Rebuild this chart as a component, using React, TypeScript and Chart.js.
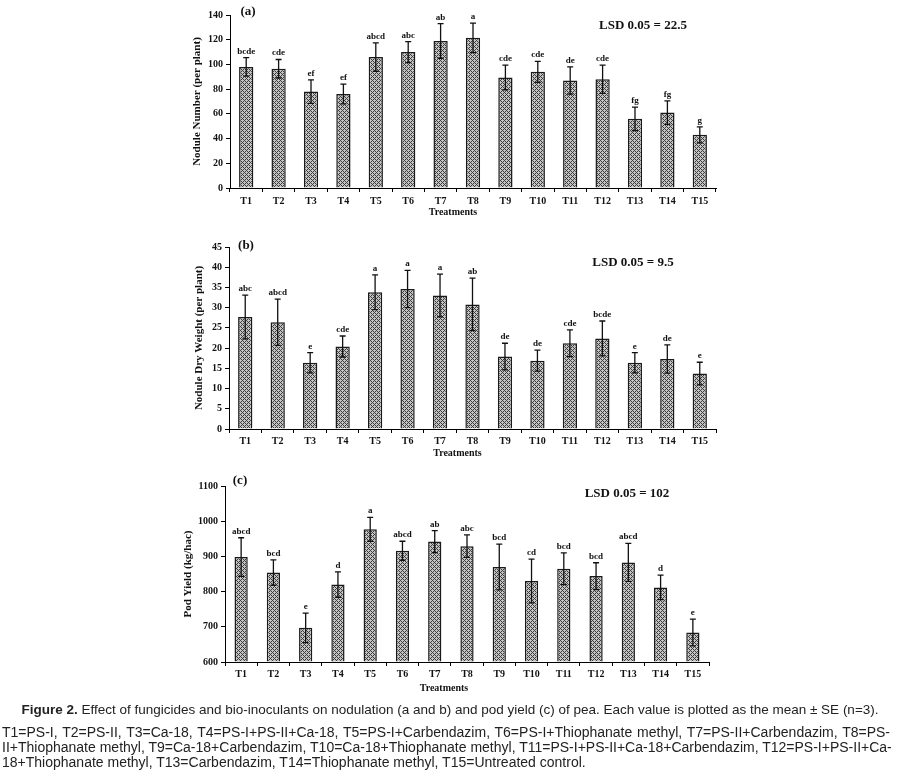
import React, { useEffect, useRef } from 'react';
import { Chart, registerables } from 'chart.js';

Chart.register(...registerables);

const treatments = ['T1', 'T2', 'T3', 'T4', 'T5', 'T6', 'T7', 'T8', 'T9', 'T10', 'T11', 'T12', 'T13', 'T14', 'T15'];

// (a) Nodule number
const noduleNumber = [98, 96.5, 78, 76, 106, 110, 119, 121.5, 89.5, 94, 87, 88, 56, 61, 43];
const noduleNumberSE = [7.5, 7.5, 9.5, 8, 11.5, 8.5, 14, 12, 10, 8.5, 11, 11.5, 9.5, 9.5, 6.5];
const noduleNumberLetters = ['bcde', 'cde', 'ef', 'ef', 'abcd', 'abc', 'ab', 'a', 'cde', 'cde', 'de', 'cde', 'fg', 'fg', 'g'];
const noduleNumberTicks = [0, 20, 40, 60, 80, 100, 120, 140];

// (b) Nodule dry weight
const noduleDryWeight = [27.7, 26.4, 16.4, 20.4, 33.8, 34.6, 33.0, 30.8, 17.9, 16.9, 21.2, 22.4, 16.4, 17.3, 13.7];
const noduleDryWeightSE = [5.4, 5.7, 2.5, 2.6, 4.3, 4.6, 5.3, 6.5, 3.3, 2.6, 3.3, 4.3, 2.5, 3.5, 2.8];
const noduleDryWeightLetters = ['abc', 'abcd', 'e', 'cde', 'a', 'a', 'a', 'ab', 'de', 'de', 'cde', 'bcde', 'e', 'de', 'e'];
const noduleDryWeightTicks = [0, 5, 10, 15, 20, 25, 30, 35, 40, 45];

// (c) Pod yield
const podYield = [898, 854, 697, 820, 977, 916, 942, 929, 870, 830, 865, 844, 883, 812, 684];
const podYieldSE = [55, 36, 42, 36, 34, 27, 31, 32, 65, 62, 45, 38, 54, 35, 38];
const podYieldLetters = ['abcd', 'bcd', 'e', 'd', 'a', 'abcd', 'ab', 'abc', 'bcd', 'cd', 'bcd', 'bcd', 'abcd', 'd', 'e'];
const podYieldTicks = [600, 700, 800, 900, 1000, 1100];

const SERIF = '"Liberation Serif", "Times New Roman", serif';

function makePattern(): CanvasPattern | string {
  const c = document.createElement('canvas');
  c.width = 4;
  c.height = 4;
  const g = c.getContext('2d');
  if (!g) return '#999';
  g.fillStyle = '#c4c4c4';
  g.fillRect(0, 0, 4, 4);
  g.fillStyle = '#3c3c3c';
  for (let x = 0; x < 4; x++) {
    for (let y = 0; y < 4; y++) {
      if ((x + y) % 4 === 0 || (x - y + 4) % 4 === 0) g.fillRect(x, y, 1, 1);
    }
  }
  const p = g.createPattern(c, 'repeat');
  return p || '#999';
}

type PanelProps = {
  top: number;
  height: number;
  padLeft: number;
  padRight: number;
  padTop: number;
  xAxisHeight: number;
  tickPad: number;
  yTitle: string;
  yTitlePad: number;
  values: number[];
  se: number[];
  letters: string[];
  ticks: number[];
  barPct: number;
  panelLabel: string;
  panelLabelPos: [number, number];
  lsdText: string;
  lsdPos: [number, number];
  xTitleShift: number;
  xTitleY: number;
};

function Panel(p: PanelProps) {
  const ref = useRef<HTMLCanvasElement | null>(null);
  useEffect(() => {
    if (!ref.current) return;
    const pattern = makePattern();
    const minV = p.ticks[0];
    const maxV = p.ticks[p.ticks.length - 1];
    const step = p.ticks[1] - p.ticks[0];
    const overlay = {
      id: 'overlay',
      afterDatasetsDraw(chart: any) {
        const ctx = chart.ctx;
        const xs = chart.scales.x;
        const ys = chart.scales.y;
        ctx.save();
        ctx.strokeStyle = '#111';
        ctx.lineWidth = 1.3;
        ctx.fillStyle = '#111';
        ctx.font = `bold 9px ${SERIF}`;
        ctx.textAlign = 'center';
        ctx.textBaseline = 'alphabetic';
        p.values.forEach((v, i) => {
          const cx = xs.getPixelForValue(i);
          const yt = ys.getPixelForValue(v + p.se[i]);
          const yb = ys.getPixelForValue(v - p.se[i]);
          ctx.beginPath();
          ctx.moveTo(cx, yt);
          ctx.lineTo(cx, yb);
          ctx.moveTo(cx - 3, yt);
          ctx.lineTo(cx + 3, yt);
          ctx.moveTo(cx - 3, yb);
          ctx.lineTo(cx + 3, yb);
          ctx.stroke();
          ctx.fillText(p.letters[i], cx, yt - 4);
        });
        ctx.font = `bold 13px ${SERIF}`;
        ctx.textBaseline = 'middle';
        ctx.fillText(p.panelLabel, p.panelLabelPos[0], p.panelLabelPos[1]);
        ctx.fillText(p.lsdText, p.lsdPos[0], p.lsdPos[1]);
        ctx.font = `bold 10px ${SERIF}`;
        const ca = chart.chartArea;
        ctx.fillText('Treatments', (ca.left + ca.right) / 2 + p.xTitleShift, p.xTitleY);
        ctx.restore();
      },
    };
    const chart = new Chart(ref.current, {
      type: 'bar',
      data: {
        labels: treatments,
        datasets: [
          {
            data: p.values,
            backgroundColor: pattern as any,
            borderColor: '#1a1a1a',
            borderWidth: 1.5,
            borderSkipped: 'start',
            base: minV,
            categoryPercentage: 1,
            barPercentage: p.barPct,
          } as any,
        ],
      },
      options: {
        animation: false,
        responsive: false,
        maintainAspectRatio: false,
        devicePixelRatio: 1,
        layout: { padding: { left: p.padLeft, right: p.padRight, top: p.padTop, bottom: 0 } },
        plugins: { legend: { display: false }, tooltip: { enabled: false }, title: { display: false } },
        scales: {
          x: {
            afterFit: (s: any) => {
              s.height = p.xAxisHeight;
            },
            grid: { display: true, drawOnChartArea: false, drawTicks: true, tickLength: 4, offset: true, color: '#000' },
            border: { display: true, color: '#000', width: 1 },
            ticks: { color: '#111', font: { family: SERIF, size: 10, weight: 'bold' }, padding: p.tickPad, maxRotation: 0, autoSkip: false },
          },
          y: {
            min: minV,
            max: maxV,
            afterFit: (s: any) => {
              s.width = 45;
            },
            grid: { display: true, drawOnChartArea: false, drawTicks: true, tickLength: 4, color: '#000' },
            border: { display: true, color: '#000', width: 1 },
            ticks: {
              stepSize: step,
              color: '#111',
              font: { family: SERIF, size: 10, weight: 'bold' },
              padding: 3,
              callback: (v: any) => String(v),
            },
            title: {
              display: true,
              text: p.yTitle,
              color: '#111',
              font: { family: SERIF, size: 11, weight: 'bold' },
              padding: { top: p.yTitlePad, bottom: 0 },
            },
          },
        },
      },
      plugins: [overlay],
    } as any);
    return () => chart.destroy();
  }, []);
  return (
    <canvas
      ref={ref}
      width={900}
      height={p.height}
      style={{ position: 'absolute', left: 0, top: p.top, width: 900, height: p.height }}
    />
  );
}

const captionFont = '"Liberation Sans", Arial, sans-serif';

export default function App() {
  return (
    <div style={{ position: 'absolute', left: 0, top: 0, width: 900, height: 780, background: '#fff', overflow: 'hidden' }}>
      <Panel
        top={0}
        height={222}
        padLeft={185}
        padRight={184}
        padTop={15}
        xAxisHeight={34}
        tickPad={3}
        yTitle="Nodule Number (per plant)"
        yTitlePad={6}
        values={noduleNumber}
        se={noduleNumberSE}
        letters={noduleNumberLetters}
        ticks={noduleNumberTicks}
        barPct={0.44}
        panelLabel="(a)"
        panelLabelPos={[248, 12]}
        lsdText="LSD 0.05 = 22.5"
        lsdPos={[643, 26]}
        xTitleShift={-20}
        xTitleY={212}
      />
      <Panel
        top={230}
        height={232}
        padLeft={184}
        padRight={184}
        padTop={17}
        xAxisHeight={33}
        tickPad={2}
        yTitle="Nodule Dry Weight (per plant)"
        yTitlePad={9}
        values={noduleDryWeight}
        se={noduleDryWeightSE}
        letters={noduleDryWeightLetters}
        ticks={noduleDryWeightTicks}
        barPct={0.44}
        panelLabel="(b)"
        panelLabelPos={[246, 16]}
        lsdText="LSD 0.05 = 9.5"
        lsdPos={[633, 33]}
        xTitleShift={-15}
        xTitleY={223}
      />
      <Panel
        top={460}
        height={235}
        padLeft={180}
        padRight={191}
        padTop={26}
        xAxisHeight={33}
        tickPad={2}
        yTitle="Pod Yield (kg/hac)"
        yTitlePad={1.5}
        values={podYield}
        se={podYieldSE}
        letters={podYieldLetters}
        ticks={podYieldTicks}
        barPct={0.41}
        panelLabel="(c)"
        panelLabelPos={[240, 21]}
        lsdText="LSD 0.05 = 102"
        lsdPos={[627, 34]}
        xTitleShift={-23}
        xTitleY={228}
      />
      <div
        style={{
          position: 'absolute',
          left: 0,
          top: 702,
          width: 900,
          textAlign: 'center',
          font: `13.5px/15px ${captionFont}`,
          color: '#222',
          whiteSpace: 'nowrap',
        }}
      >
        <b>Figure 2.</b> Effect of fungicides and bio-inoculants on nodulation (a and b) and pod yield (c) of pea. Each value is plotted as the mean ± SE (n=3).
      </div>
      <div
        style={{
          position: 'absolute',
          left: 2,
          top: 724.5,
          width: 888,
          font: `14px/15px ${captionFont}`,
          color: '#222',
        }}
      >
        <div style={{ textAlign: 'justify', textAlignLast: 'justify', whiteSpace: 'nowrap' } as any}>
          T1=PS-I, T2=PS-II, T3=Ca-18, T4=PS-I+PS-II+Ca-18, T5=PS-I+Carbendazim, T6=PS-I+Thiophanate methyl, T7=PS-II+Carbendazim, T8=PS-
        </div>
        <div style={{ textAlign: 'justify', textAlignLast: 'justify', whiteSpace: 'nowrap' } as any}>
          II+Thiophanate methyl, T9=Ca-18+Carbendazim, T10=Ca-18+Thiophanate methyl, T11=PS-I+PS-II+Ca-18+Carbendazim, T12=PS-I+PS-II+Ca-
        </div>
        <div style={{ whiteSpace: 'nowrap' }}>
          18+Thiophanate methyl, T13=Carbendazim, T14=Thiophanate methyl, T15=Untreated control.
        </div>
      </div>
    </div>
  );
}
